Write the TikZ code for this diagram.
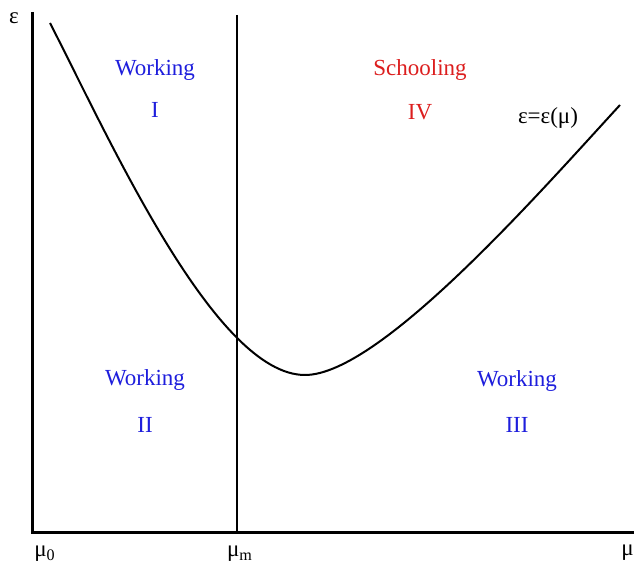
\documentclass[tikz,border=0pt]{standalone}
\usepackage{fontspec}
\setmainfont{Liberation Serif}
\definecolor{workblue}{RGB}{30,30,220}
\definecolor{schoolred}{RGB}{220,30,30}
\begin{document}
\begin{tikzpicture}[x=0.5pt,y=-0.5pt,font=\fontsize{11.5}{13}\selectfont]
    \useasboundingbox (0,0) rectangle (634,567);
    % Eixos
    \draw [line width=1.5pt, black] (33,12) -- (33,533) -- (634,533);
    % Linha vertical em mu_m
    \draw [line width=0.8pt, black] (237,15) -- (237,533);
    % Curva
    \draw [line width=1pt, black] (50,23) .. controls (110,140) and (215,375) .. (305,375)
        .. controls (380,375) and (540,192) .. (620,105);
    % Rotulos dos eixos
    \node (eps) at (14,18) {ε};
    \node (mu0) at (45,554) {μ\textsubscript{0}};
    \node (mum) at (240,554) {μ\textsubscript{m}};
    \node [inner sep=0pt, anchor=east] (mu) at (634,553) {μ};
    \node (curve) at (548,118) {ε=ε(μ)};
    % Regioes
    \node [workblue] (w1) at (155,70) {Working};
    \node [workblue] (r1) at (155,110) {I};
    \node [schoolred] (s4) at (420,70) {Schooling};
    \node [schoolred] (r4) at (420,112) {IV};
    \node [workblue] (w2) at (145,380) {Working};
    \node [workblue] (r2) at (145,425) {II};
    \node [workblue] (w3) at (517,381) {Working};
    \node [workblue] (r3) at (517,425) {III};
\end{tikzpicture}
\end{document}
